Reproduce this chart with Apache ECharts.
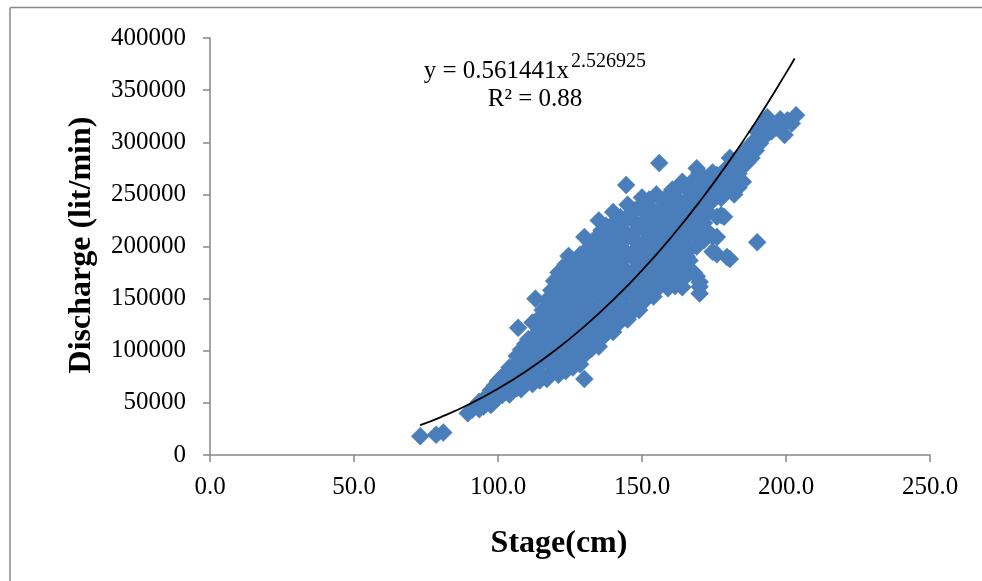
<!DOCTYPE html>
<html>
<head>
<meta charset="utf-8">
<script src="https://cdn.jsdelivr.net/npm/echarts@6/dist/echarts.min.js"></script>
<style>
html,body{margin:0;padding:0;background:#fff;overflow:hidden;}
#chart{width:982px;height:581px;}
</style>
</head>
<body>
<div id="chart"></div>
<script>
var stage = [
 73,78.5,81,
 89.5,91,92.5,
 93.5,93.5, 95,95, 96.5,96.5,
 97.5,97.5,97.5, 99,99,99, 100,100,100,
 101.5,101.5,101.5, 102.5,102.5,102.5,
 104,104,104,104, 105,105,105,
 106.5,106.5,106.5,106.5, 107,
 108,108,108,108, 109.5,109.5,109.5,109.5,
 110.5,110.5,110.5,110.5, 112,112,112,112,112,
 113,113,113, 114.5,114.5,114.5,114.5,114.5,
 115.5,115.5,115.5,115.5,115.5, 117,117,117,117,117,117,
 118.5,118.5,118.5,118.5,118.5,118.5, 119.5,119.5,119.5,119.5,119.5,119.5,
 121,121,121,121,121,121,121, 122,122,122,122,122,122,
 123.5,123.5,123.5,123.5,123.5,123.5,123.5, 124.5,124.5,124.5,124.5,124.5,124.5,124.5,
 126,126,126,126,126,126,126, 127,127,127,127,127,127,
 128.5,128.5,128.5,128.5,128.5,128.5,128.5, 129.5,129.5,129.5,129.5,129.5,129.5,
 130,130,
 131,131,131,131,131,131,131, 132.5,132.5,132.5,132.5,132.5,132.5,
 133.5,133.5,133.5,133.5,133.5,133.5,133.5, 135,135,135,135,135,135,135,135,
 136,136,136,136,136,136,136, 137.5,137.5,137.5,137.5,137.5,137.5,137.5,
 138.5,138.5,138.5,138.5,138.5,138.5, 140,140,140,140,140,140,140,140,
 141,141,141,141,141,141, 142.5,142.5,142.5,142.5,142.5,142.5,142.5,
 143.5,143.5,143.5,143.5,143.5,143.5, 144.5,
 145,145,145,145,145,145,145,145, 146.5,146.5,146.5,146.5,146.5,146.5,
 147.5,147.5,147.5,147.5,147.5,147.5, 149,149,149,149,149,149,149,
 150,150,150,150,150,150,150, 151.5,151.5,151.5,151.5,151.5,151.5,
 152.5,152.5,152.5,152.5,152.5,152.5, 154,154,154,154,154,154,
 155,155,155,155,155,155, 156, 156.5,156.5,156.5,156.5,156.5,
 158,158,158,158,158,158, 159,159,159,159,159,159,
 160.5,160.5,160.5,160.5,160.5,160.5, 161.5,161.5,161.5,161.5,161.5,161.5,
 163,163,163,163,163,163, 164,164,164,164,164,164,
 165.5,165.5,165.5,165.5,165.5,165.5, 166.5,166.5,166.5,166.5,166.5,
 168,168,168,168,168, 169,169,169,169,169,169,
 170,170,170,170,170,170,170, 171.5,171.5,171.5,171.5,
 173,173,173,173, 174.5,174.5,174.5,174.5,174.5,
 176,176,176,176,176, 177.5,177.5,177.5, 178.5,178.5,178.5,
 179.5,179.5, 180.5,180.5,180.5,180.5, 182,182,182,
 183.5,183.5,183.5, 185,185,185, 186.5,186.5, 188,188, 189.5,189.5,
 190,190, 191,191, 192.5,192.5, 193.5,193.5, 195,195, 196.5,
 198,198, 199.5, 200.5, 202, 203.5
];
// Discharge (lit/min) of each observation, in the same order
var discharge = [
 18000,19500,21500,
 40000,43500,47000,
 44000,51000, 46500,53500, 50500,57000,
 48000,55500,62000, 52500,58500,67000, 55000,63500,71000,
 57500,65000,75000, 61000,69500,78000,
 58000,67000,76500,84000, 62500,72000,80000,
 64000,75000,87000,95000, 122000,
 63000,77500,90000,101000, 67500,79000,93000,106500,
 70500,85000,97000,111000, 68000,81500,96000,113000,127000,
 150000,89000,104000, 71500,86000,100500,117000,132000,
 75000,94000,108500,123000,139000, 73000,91000,104500,120000,136500,149000,
 78500,97000,112500,129000,144000,158000, 82000,101500,118000,134000,152000,167000,
 77000,93500,110500,126000,142000,160500,175000, 86000,104000,121500,138000,156000,171000,
 80500,98500,115000,131500,148500,166000,183000, 88000,107500,125000,143000,160000,178500,191000,
 84000,101000,119500,135500,153000,171500,186000, 91500,110000,128500,146000,164500,180000,
 87000,104500,122000,140500,157000,175500,192000, 95000,115500,133000,150500,169000,186500,
 73000,209000,
 98500,111000,127500,145000,162500,180000,197500, 102000,120500,138000,156500,173000,190000,
 107500,124000,141500,160000,178500,196000,207000, 104000,118500,135000,152500,170000,188500,205000,225000,
 112000,129500,147000,165500,183000,199000,215500, 116500,133000,150500,168000,186500,204000,220000,
 121000,139500,157000,175500,193000,210500, 118000,134500,152000,170500,188000,206500,222000,233000,
 125500,143000,161500,179000,197500,214000, 128000,146500,164000,182500,200000,218500,228000,
 133000,151500,169000,187500,205000,223500, 259000,
 130000,140500,157000,175500,193000,211500,229000,240000, 136500,154000,172500,190000,208500,226000,
 142000,160500,178000,196500,214000,234500, 139000,148500,166000,184500,202000,220500,238000,
 145500,163000,181500,199000,217500,235000,247000, 150000,168500,186000,204500,222000,240500,
 155500,173000,191500,209000,227500,245000, 152000,162500,180000,198500,216000,234500,
 158500,176000,194500,212000,230500,250000, 280000, 163000,183500,201000,219500,237000,
 167500,178000,196500,214000,232500,246000, 160000,172500,190000,208500,226000,244500,
 165000,184500,202000,220500,238000,254500, 162000,175500,194000,212500,230000,248500,
 168500,186000,204500,222000,240500,258000, 161000,180500,198000,216500,234000,262000,
 172000,190500,208000,226500,244000,256500, 186500,197000,218500,236000,252500,
 175000,212500,230000,248500,264000, 171500,200000,224500,242000,260500,275000,
 155000,161500,166000,218000,236500,254000,270500, 206000,222500,240000,258500,
 214000,232500,250000,266500, 195000,209500,244000,262500,271000,
 192500,209000,228500,256000,268500, 230000,246500,262000, 228500,254000,268000,
 190000,275500, 188000,258500,272000,285000, 250000,264500,280000,
 256500,270000,284500, 262000,276500,290000, 280500,292000, 285000,298500, 292000,302500,
 204000,310000, 299000,314500, 305000,320000, 324000,312500, 310500,318000, 314000,
 322000,318500, 307000, 321000, 318000, 326000
];
// Power trend line y = 0.561441x^2.526925, values read at these stages
var trendStage = [73,80,90,100,110,120,130,140,150,160,170,180,190,200,203];
var trendDischarge = [28700,36160,48700,63560,80860,100740,123330,148730,177050,208430,242930,280680,321750,366300,380330];
// Axis tick settings
var xMin = 0, xMax = 250, xStep = 50;
var yMin = 0, yMax = 400000, yStep = 50000;

var n = Math.min(stage.length, discharge.length);
var pts = [];
for (var i = 0; i < n; i++) pts.push([stage[i], discharge[i]]);
var trend = trendStage.map(function(s,i){return [s, trendDischarge[i]];});

var serif = '"Liberation Serif","Times New Roman",serif';
var axisColor = '#868686';
var chart = echarts.init(document.getElementById('chart'));
chart.setOption({
  animation:false,
  backgroundColor:'#fff',
  grid:{left:210, top:38, width:720, height:417},
  xAxis:{
    type:'value', min:xMin, max:xMax, interval:xStep,
    axisLine:{lineStyle:{color:axisColor, width:1.5}},
    axisTick:{show:true, length:7, lineStyle:{color:axisColor, width:1.5}},
    splitLine:{show:false},
    axisLabel:{color:'#000', fontFamily:serif, fontSize:25, margin:20,
      formatter:function(v){return v.toFixed(1);}}
  },
  yAxis:{
    type:'value', min:yMin, max:yMax, interval:yStep,
    axisLine:{show:true, lineStyle:{color:axisColor, width:1.5}},
    axisTick:{show:true, length:7, lineStyle:{color:axisColor, width:1.5}},
    splitLine:{show:false},
    axisLabel:{color:'#000', fontFamily:serif, fontSize:25, margin:24,
      formatter:function(v){return String(v);}}
  },
  graphic:[
    {type:'line', shape:{x1:10, y1:7.5, x2:982, y2:7.5}, style:{stroke:'#898989', lineWidth:1.5}, silent:true},
    {type:'line', shape:{x1:10, y1:7.5, x2:10, y2:581}, style:{stroke:'#898989', lineWidth:1.5}, silent:true},
    {type:'text', x:559, y:544, style:{text:'Stage(cm)', font:'bold 32px '+serif, fill:'#000', textAlign:'center', textVerticalAlign:'middle'}},
    {type:'text', x:82, y:245, rotation:Math.PI/2, style:{text:'Discharge (lit/min)', font:'bold 32px '+serif, fill:'#000', textAlign:'center', textVerticalAlign:'middle'}},
    {type:'text', x:569, y:71, style:{text:'y = 0.561441x', font:'25px '+serif, fill:'#000', textAlign:'right', textVerticalAlign:'middle'}},
    {type:'text', x:571, y:62, style:{text:'2.526925', font:'20px '+serif, fill:'#000', textAlign:'left', textVerticalAlign:'middle'}},
    {type:'text', x:535, y:99, style:{text:'R² = 0.88', font:'25px '+serif, fill:'#000', textAlign:'center', textVerticalAlign:'middle'}}
  ],
  series:[
    {type:'scatter', data:pts, symbol:'diamond', symbolSize:18,
     itemStyle:{color:'#4A7EBB', borderColor:'#4A7EBB', borderWidth:0.5, opacity:1}},
    {type:'line', data:trend, smooth:true, showSymbol:false, symbol:'none',
     lineStyle:{color:'#000', width:1.8}, z:3}
  ]
});
</script>
</body>
</html>
